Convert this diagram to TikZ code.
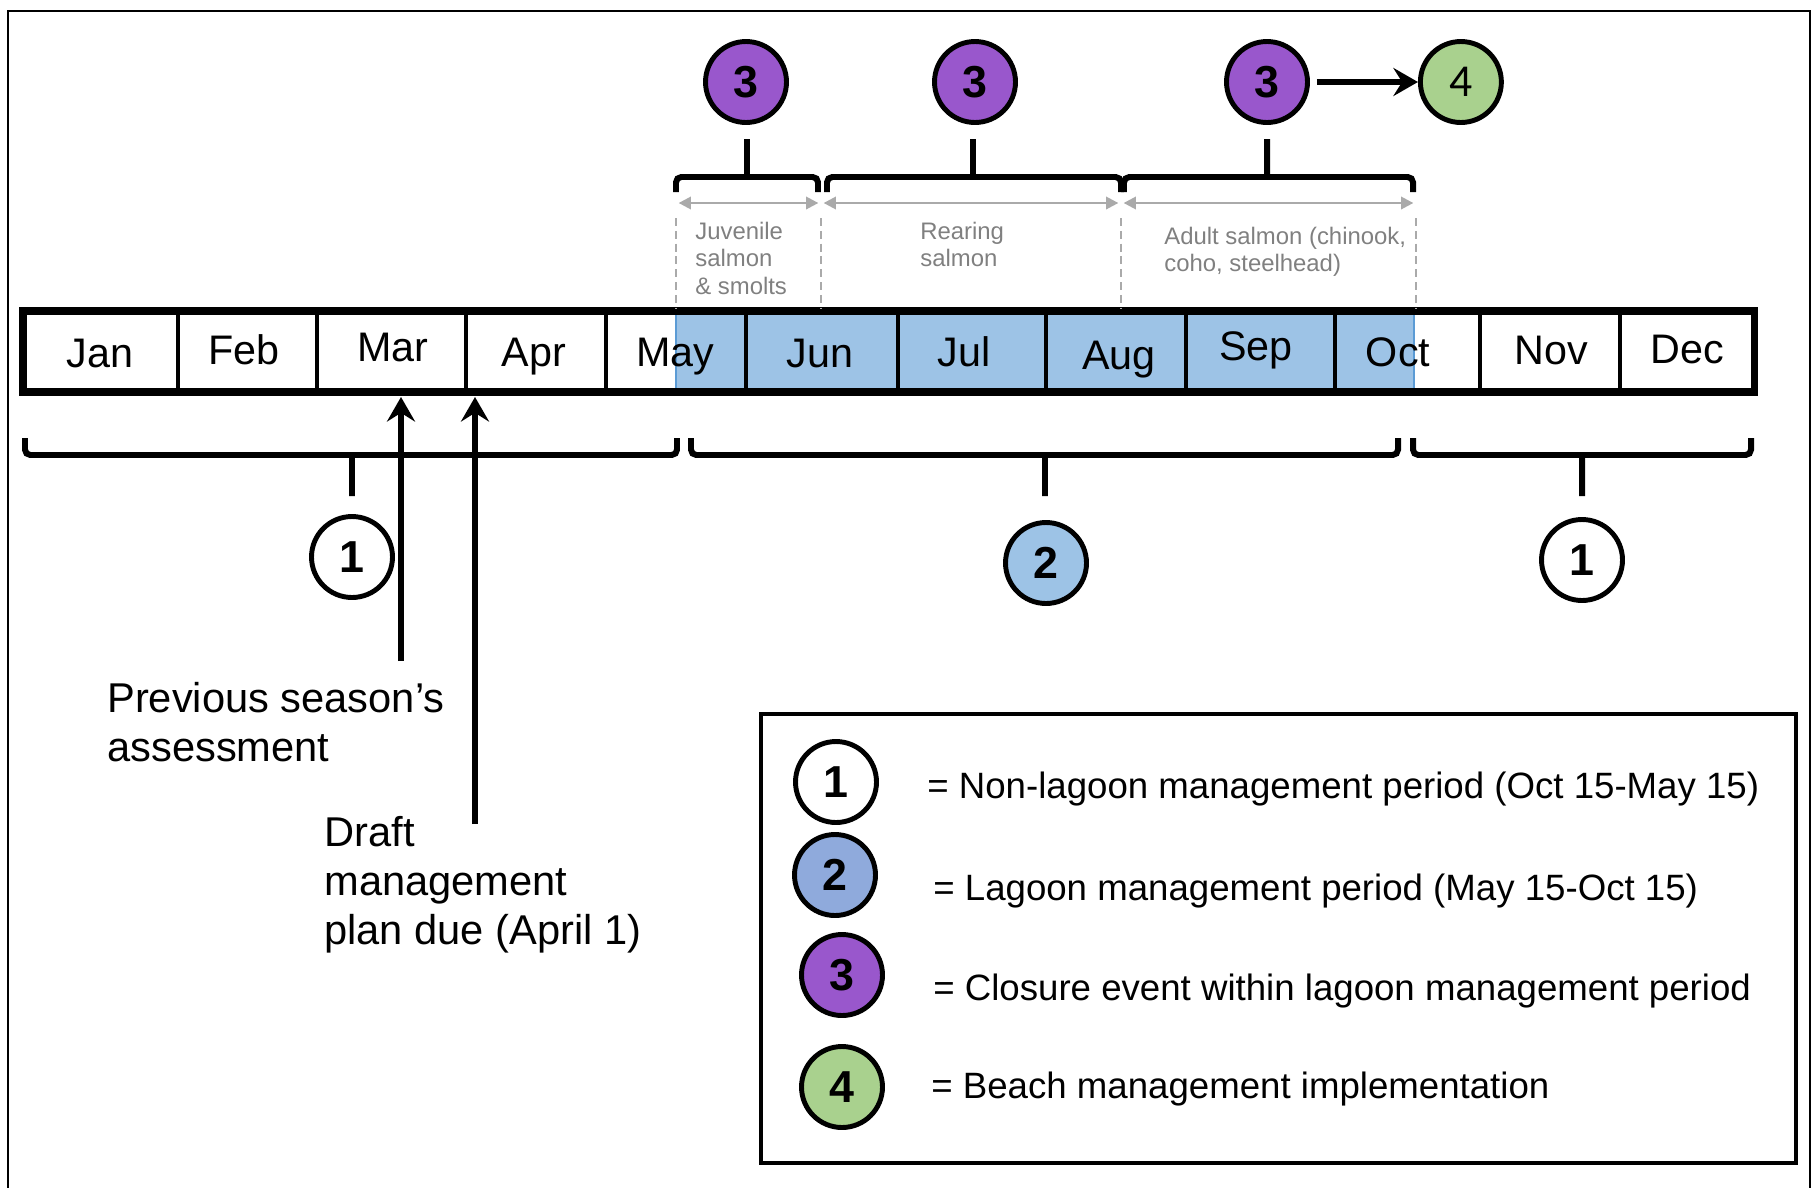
\documentclass[tikz,border=0pt]{standalone}
\usepackage{fontspec}
\setmainfont{Liberation Sans}
\newfontfamily\calibri{Carlito}
\usetikzlibrary{arrows.meta,positioning}
\definecolor{lagoon}{RGB}{157,195,230}
\definecolor{lagoonedge}{RGB}{91,155,213}
\definecolor{legblue}{RGB}{143,170,220}
\definecolor{closure}{RGB}{153,87,204}
\definecolor{beach}{RGB}{169,209,142}
\definecolor{note}{RGB}{170,170,170}
\definecolor{notetext}{RGB}{128,128,128}
\begin{document}
\begin{tikzpicture}[x=0.02cm, y=-0.02cm,
	month/.style={anchor=base, font=\fontsize{23.5}{28}\selectfont},
	stage/.style={circle, draw, fill=white, line width=2.8pt, minimum size=1.62cm, inner sep=0pt, font=\bfseries\fontsize{25.5}{30}\selectfont},
	brace/.style={line width=3.4pt, rounded corners=3pt},
	pointer/.style={line width=3.4pt, -{Stealth[length=14pt,width=16pt,inset=5pt]}},
	span/.style={draw=note, line width=1.4pt, {Triangle[length=7pt,width=7pt]}-{Triangle[length=7pt,width=7pt]}, shorten <=1.5pt, shorten >=1.5pt},
	guide/.style={draw=note, line width=1.4pt, dash pattern=on 4.5pt off 2.8pt},
	fish/.style={anchor=north west, inner sep=0pt, align=left, text=notetext, font=\fontsize{13.6}{15.5}\selectfont},
	remark/.style={anchor=north west, inner sep=0pt, align=left, font=\fontsize{23.7}{28}\selectfont},
	key/.style={anchor=base west, inner sep=0pt, font=\fontsize{20.85}{25}\selectfont}]
			\useasboundingbox (0,0) rectangle (1816,1187);
			\draw[line width=1.4pt] (8,1195) -- (8,11) -- (1810,11) -- (1810,1195);
			
			\fill[lagoon, draw=lagoonedge, line width=0.8pt] (676,311) rectangle (1414,392);
			\draw[line width=2.8pt] (178,311) -- (178,392) (317,311) -- (317,392) (466,311) -- (466,392)
				(606,311) -- (606,392) (746,311) -- (746,392) (898,311) -- (898,392) (1046,311) -- (1046,392)
				(1186,311) -- (1186,392) (1335,311) -- (1335,392) (1480,311) -- (1480,392) (1620,311) -- (1620,392);
			\draw[line width=4pt] (23,311) rectangle (1754,392);
			
			\node[month] (jan) at (100,367) {Jan};
			\node[month] (feb) at (244,364) {Feb};
			\node[month] (mar) at (393,361) {Mar};
			\node[month] (apr) at (534,366) {Apr};
			\node[month] (may) at (675,366) {May};
			\node[month] (jun) at (820,367) {Jun};
			\node[month] (jul) at (964,366) {Jul};
			\node[month] (aug) at (1119,369) {Aug};
			\node[month] (sep) at (1256,360) {Sep};
			\node[month] (oct) at (1398,366) {Oct};
			\node[month] (nov) at (1551,364) {Nov};
			\node[month] (dec) at (1687,363) {Dec};
			
			\node[stage, fill=closure] (p3a) at (746,82) {3};
			\node[stage, fill=closure] (p3b) at (975,82) {3};
			\node[stage, fill=closure] (p3c) at (1267,82) {3};
			\node[stage, fill=beach, font=\calibri\fontsize{26}{30}\selectfont, right=2.16cm of p3c] (p4) {4};
			\draw[pointer, shorten <=4pt] (p3c) -- (p4);
			
			\draw[brace] (676,192) -- (676,177) -- (818,177) -- (818,192) (747,177) -- (747,139);
			\draw[brace] (827,192) -- (827,177) -- (1121,177) -- (1121,192) (973,177) -- (973,139);
			\draw[brace] (1124,192) -- (1124,177) -- (1413,177) -- (1413,192) (1267,177) -- (1267,139);
			
			\coordinate (g1) at (676,203);
			\coordinate (g2) at (821,203);
			\coordinate (g3) at (1121,203);
			\coordinate (g4) at (1416,203);
			\draw[span] (g1) -- (g2);
			\draw[span] (g2) -- (g3);
			\draw[span] (g3) -- (g4);
			\draw[guide] (676,218) -- (676,308) (821,218) -- (821,308) (1121,218) -- (1121,308) (1416,218) -- (1416,308);
			
			\node[fish] (juv) at (695,222) {Juvenile\\salmon\\\& smolts};
			\node[fish] (rear) at (920,222) {Rearing\\salmon};
			\node[fish] (adult) at (1164,227) {Adult salmon (chinook,\\coho, steelhead)};
			
			\draw[brace] (25,438) -- (25,455) -- (677,455) -- (677,438) (352,455) -- (352,496);
			\draw[brace] (691,438) -- (691,455) -- (1398,455) -- (1398,438) (1045,455) -- (1045,496);
			\draw[brace] (1413,438) -- (1413,455) -- (1751,455) -- (1751,438) (1582,455) -- (1582,496);
			
			\node[stage] (n1a) at (352,557) {1};
			\node[stage, fill=lagoon] (n2) at (1046,563) {2};
			\node[stage] (n1b) at (1582,560) {1};
			
			\coordinate (prevtip) at (401,397);
			\coordinate (prevfoot) at (401,661);
			\coordinate (drafttip) at (475,397);
			\coordinate (draftfoot) at (475,824);
			\draw[pointer] (prevfoot) -- (prevtip);
			\draw[pointer] (draftfoot) -- (drafttip);
			
			\node[remark] (prev) at (107,682) {Previous season’s\\assessment};
			\node[remark] (draft) at (324,816) {Draft\\management\\plan due (April 1)};
			
			\draw[line width=2.8pt] (761,714) rectangle (1796,1163);
			\node[stage] (k1) at (836,782) {1};
			\node[stage, fill=legblue] (k2) at (835,875) {2};
			\node[stage, fill=closure] (k3) at (842,975) {3};
			\node[stage, fill=beach] (k4) at (842,1087) {4};
			\node[key] (t1) at (927,798) {= Non-lagoon management period (Oct 15-May 15)};
			\node[key] (t2) at (933,900) {= Lagoon management period (May 15-Oct 15)};
			\node[key] (t3) at (933,1000) {= Closure event within lagoon management period};
			\node[key] (t4) at (931,1098) {= Beach management implementation};
\end{tikzpicture}
\end{document}
